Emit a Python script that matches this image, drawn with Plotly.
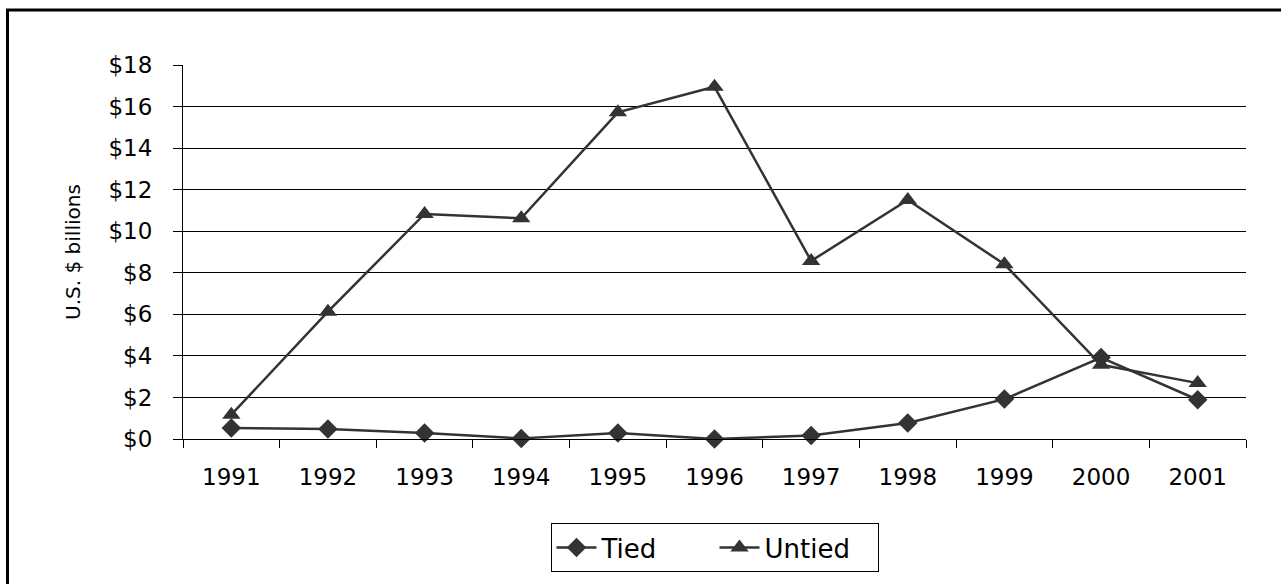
import plotly.graph_objects as go

# Data
years = ["1991", "1992", "1993", "1994", "1995", "1996", "1997", "1998", "1999", "2000", "2001"]
tied = [0.53, 0.48, 0.29, 0.03, 0.29, 0.0, 0.17, 0.77, 1.92, 3.92, 1.89]
untied = [1.17, 6.13, 10.83, 10.62, 15.72, 16.95, 8.57, 11.5, 8.41, 3.57, 2.69]
y_ticks = [0, 2, 4, 6, 8, 10, 12, 14, 16, 18]
y_ticktext = [f"${v}" for v in y_ticks]

line_color = "#333333"
font_family = "DejaVu Sans"

fig = go.Figure()

fig.add_trace(go.Scatter(
    x=years, y=tied, name="Tied", mode="lines+markers",
    line=dict(color=line_color, width=2.5),
    marker=dict(symbol="diamond", size=15, color=line_color),
    cliponaxis=False,
))
fig.add_trace(go.Scatter(
    x=years, y=untied, name="Untied", mode="lines+markers",
    line=dict(color=line_color, width=2.5),
    marker=dict(symbol="triangle-up", size=16, color=line_color),
    cliponaxis=False,
))

# plot area in pixels: x 183..1246, y 65..439
L, R, T, B = 183, 35, 65, 145
pw, ph = 1281 - L - R, 584 - T - B

def px_x(x):
    return (x - L) / pw

def px_y(y):
    return (584 - B - y) / ph

fig.update_layout(
    width=1281, height=584,
    margin=dict(l=L, r=R, t=T, b=B),
    paper_bgcolor="white", plot_bgcolor="white",
    font=dict(family=font_family, color="black", size=20),
    showlegend=True,
    legend=dict(
        orientation="h", x=0.5, xanchor="center",
        y=px_y(523), yanchor="top",
        bordercolor="black", borderwidth=1,
        font=dict(size=26), itemwidth=40,
        entrywidth=108,
        traceorder="normal",
    ),
    xaxis=dict(
        type="category", showgrid=False,
        showline=True, linecolor="black", linewidth=1,
        ticks="outside", ticklen=8, tickcolor="black",
        tickson="boundaries", ticklabelstandoff=17,
        tickfont=dict(size=23),
        range=[-0.5, 10.5],
    ),
    yaxis=dict(
        range=[0, 18], tickvals=y_ticks, ticktext=y_ticktext,
        showgrid=True, gridcolor="black", gridwidth=1,
        showline=True, linecolor="black", linewidth=1,
        ticks="outside", ticklen=9, tickcolor="black",
        ticklabelstandoff=16, zeroline=False,
        tickfont=dict(size=23),
        title=dict(text="U.S. $ billions", font=dict(size=20), standoff=22),
    ),
    shapes=[
        dict(type="line", xref="paper", yref="paper",
             x0=px_x(7.5), x1=px_x(7.5), y0=px_y(590), y1=px_y(10),
             line=dict(color="black", width=3)),
        dict(type="line", xref="paper", yref="paper",
             x0=px_x(6), x1=px_x(1290), y0=px_y(10), y1=px_y(10),
             line=dict(color="black", width=3)),
    ],
)

fig.write_html(
    "out.html",
    config={"displayModeBar": False},
    post_script="document.body.style.margin='0';document.body.style.overflow='hidden';",
)
